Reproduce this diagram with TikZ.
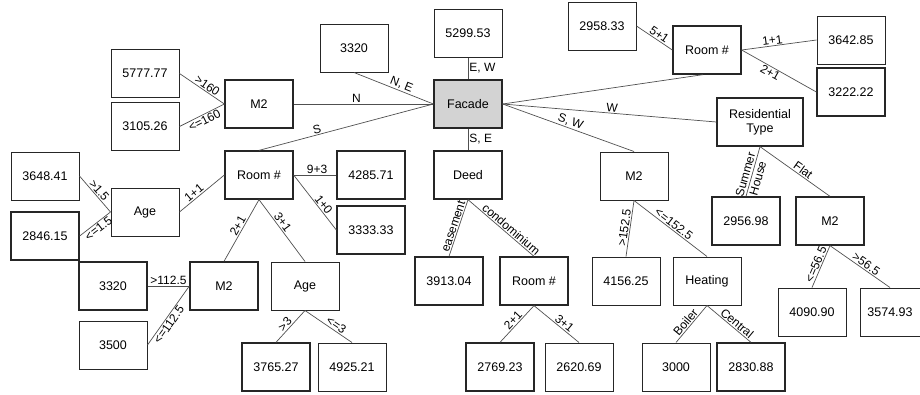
\documentclass[tikz,border=0pt]{standalone}
\usepackage{fontspec}
\setmainfont{Liberation Sans}
\usepackage{tikz}
\usetikzlibrary{positioning,calc}
\definecolor{BX}{HTML}{262626}
\definecolor{LN}{HTML}{505050}
\definecolor{FG}{HTML}{D3D3D3}
\tikzset{
  leaf/.style={draw=BX, line width=1pt, minimum width=68pt, minimum height=48pt,
               inner sep=0pt, font=\fontsize{12.5}{14}\selectfont},
  split/.style={leaf, line width=1.3pt},
  edge/.style={draw=LN, line width=0.7pt},
  lbl/.style={font=\fontsize{12}{13}\selectfont, inner sep=1pt},
  slbl/.style={lbl, sloped},
}

\begin{document}
\begin{tikzpicture}[x=1pt,y=-1pt]
  \useasboundingbox (0,0) rectangle (920,394);

  \node[split, fill=FG] (facade) at (468,104) {Facade};
  \node[leaf] (fEW) at (468,33) {5299.53};
  \node[leaf] (fNE) at (354,48) {3320};

  \node[split] (m2N) at (259,104) {M2};
  \node[leaf] (m2Nhi) at (145,73.5) {5777.77};
  \node[leaf] (m2Nlo) at (145,126.5) {3105.26};

  \node[split] (roomS) at (259,175) {Room \#};
  \node[split] (r93) at (371,175) {4285.71};
  \node[split] (r10) at (371,230) {3333.33};

  \node[leaf] (ageS) at (145,212) {Age};
  \node[leaf] (ageShi) at (45,176) {3648.41};
  \node[split] (ageSlo) at (45,236) {2846.15};

  \node[split] (m2S) at (224,286) {M2};
  \node[split] (m2Shi) at (113,286) {3320};
  \node[leaf] (m2Slo) at (113,345) {3500};

  \node[leaf] (ageR) at (305,286) {Age};
  \node[split] (ageRhi) at (276,367) {3765.27};
  \node[leaf] (ageRlo) at (352,367) {4925.21};

  \node[split] (deed) at (468,175) {Deed};
  \node[split] (ease) at (449,281) {3913.04};
  \node[split] (roomC) at (534,281) {Room \#};
  \node[split] (rC21) at (500,367) {2769.23};
  \node[leaf] (rC31) at (579,367) {2620.69};

  \node[leaf] (m2SW) at (634,176) {M2};
  \node[leaf] (m2SWhi) at (626,281) {4156.25};
  \node[leaf] (heat) at (707,281) {Heating};
  \node[leaf] (boiler) at (676,367) {3000};
  \node[split] (central) at (751,367) {2830.88};

  \node[split, minimum width=86pt, align=center] (rtype) at (760,122) {Residential\\Type};
  \node[split] (summer) at (746,221) {2956.98};
  \node[split] (m2W) at (830,221) {M2};
  \node[leaf] (m2Wlo) at (812,312) {4090.90};
  \node[leaf, minimum width=60pt] (m2Whi) at (890,312) {3574.93};

  \node[split] (roomW) at (707,50) {Room \#};
  \node[leaf] (rW51) at (602,26) {2958.33};
  \node[leaf] (rW11) at (851,40) {3642.85};
  \node[split] (rW21) at (851,92) {3222.22};

  \draw[edge] (facade.north) -- node[lbl, right] {E, W} (fEW.south);
  \draw[edge] (facade.west) -- node[slbl, above, pos=0.43] {N, E} (fNE.south);
  \draw[edge] (facade.west) -- node[slbl, above, pos=0.55] {N} (m2N.east);
  \draw[edge] (facade.west) -- node[slbl, above, pos=0.66] {S} (roomS.north);
  \draw[edge] (facade.south) -- node[lbl, right] {S, E} (deed.north);
  \draw[edge] (facade.east) -- node[slbl, above, pos=0.5] {S, W} (m2SW.north);
  \draw[edge] (facade.east) -- node[slbl, above, pos=0.51] {W} (rtype.west);
  \draw[edge] (facade.east) -- ($(roomW.south)+(-4,0)$);

  \draw[edge] (m2N.west) -- node[slbl, above, pos=0.45] {>160} (m2Nhi.east);
  \draw[edge] (m2N.west) -- node[slbl, below, pos=0.5] {<=160} (m2Nlo.east);

  \draw[edge] (roomS.east) -- node[slbl, above, pos=0.55] {9+3} (r93.west);
  \draw[edge] (roomS.east) -- node[slbl, above, pos=0.6] {1+0} (r10.west);
  \draw[edge] (roomS.west) -- node[slbl, above, pos=0.6] {1+1} (ageS.east);
  \draw[edge] (roomS.south) -- node[slbl, above, pos=0.47] {2+1} (m2S.north);
  \draw[edge] (roomS.south) -- node[slbl, above, pos=0.42] {3+1} (ageR.north);

  \draw[edge] (ageS.west) -- node[slbl, above, pos=0.5] {>1.5} (ageShi.east);
  \draw[edge] (ageS.west) -- node[slbl, below, pos=0.5] {<=1.5} (ageSlo.east);

  \draw[edge] (m2S.west) -- node[slbl, above, pos=0.5] {>112.5} (m2Shi.east);
  \draw[edge] (m2S.west) -- node[slbl, below, pos=0.6] {<=112.5} (m2Slo.east);

  \draw[edge] (ageR.south) -- node[slbl, above, pos=0.55] {>3} (ageRhi.north);
  \draw[edge] (ageR.south) -- node[slbl, above, pos=0.6] {<=3} (ageRlo.north);

  \draw[edge] (deed.south) -- node[slbl, above, pos=0.5] {easement} (ease.north);
  \draw[edge] (deed.south) -- node[slbl, above, pos=0.6] {condominium} (roomC.north);
  \draw[edge] (roomC.south) -- node[slbl, above, pos=0.5] {2+1} (rC21.north);
  \draw[edge] (roomC.south) -- node[slbl, above, pos=0.6] {3+1} (rC31.north);

  \draw[edge] (m2SW.south) -- node[slbl, above, pos=0.5] {>152.5} (m2SWhi.north);
  \draw[edge] (m2SW.south) -- node[slbl, above, pos=0.5] {<=152.5} (heat.north);
  \draw[edge] (heat.south) -- node[slbl, above, pos=0.55] {Boiler} (boiler.north);
  \draw[edge] (heat.south) -- node[slbl, above, pos=0.6] {Central} (central.north);

  \draw[edge] (rtype.south) -- node[slbl, align=center, pos=0.6] {Summer\\House} (summer.north);
  \draw[edge] (rtype.south) -- node[slbl, above, pos=0.57] {Flat} (m2W.north);
  \draw[edge] (m2W.south) -- node[slbl, above, pos=0.5] {<=56.5} (m2Wlo.north);
  \draw[edge] (m2W.south) -- node[slbl, above, pos=0.55] {>56.5} (m2Whi.north);

  \draw[edge] (roomW.west) -- node[slbl, above, pos=0.45] {5+1} (rW51.east);
  \draw[edge] (roomW.east) -- node[slbl, above, pos=0.42] {1+1} (rW11.west);
  \draw[edge] (roomW.east) -- node[slbl, below, pos=0.42] {2+1} (rW21.west);
\end{tikzpicture}
\end{document}
